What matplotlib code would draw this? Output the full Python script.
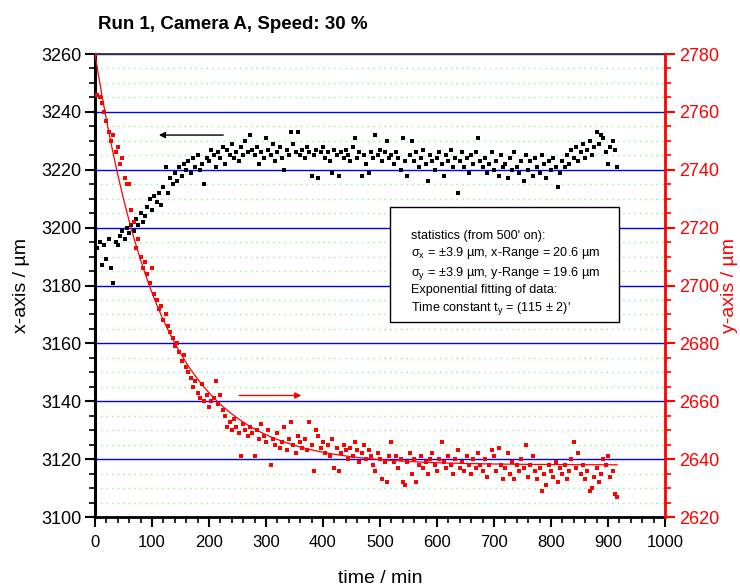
import numpy as np
import matplotlib.pyplot as plt
from matplotlib.ticker import MultipleLocator

plt.rcParams['font.family'] = ['Liberation Sans', 'DejaVu Sans']

# sampling times (min), one reading every 4 minutes
time_min = np.arange(0, 920, 4)

# x position of the spot (left axis, µm)
x_pos = [
    3200, 3193, 3195, 3187, 3194, 3189, 3196, 3186, 3181, 3195,
    3194, 3197, 3199, 3196, 3200, 3198, 3201, 3199, 3203, 3201,
    3205, 3202, 3204, 3207, 3210, 3206, 3211, 3209, 3212, 3208,
    3214, 3221, 3212, 3217, 3215, 3219, 3216, 3221, 3218, 3222,
    3220, 3223, 3219, 3224, 3221, 3225, 3220, 3222, 3215, 3224,
    3223, 3227, 3225, 3221, 3226, 3224, 3228, 3222, 3227, 3225,
    3229, 3224, 3226, 3223, 3228, 3225, 3230, 3226, 3232, 3227,
    3225, 3228, 3222, 3226, 3224, 3231, 3227, 3225, 3229, 3223,
    3226, 3228, 3224, 3220, 3227, 3225, 3233, 3229, 3226, 3233,
    3225, 3227, 3224, 3228, 3226, 3218, 3225, 3227, 3217, 3226,
    3228, 3224, 3226, 3223, 3219, 3227, 3225, 3218, 3226, 3224,
    3227, 3225, 3223, 3228, 3231, 3224, 3226, 3218, 3225, 3222,
    3219, 3226, 3224, 3232, 3225, 3227, 3223, 3226, 3230, 3224,
    3225, 3222, 3226, 3224, 3220, 3231, 3223, 3218, 3225, 3230,
    3223, 3226, 3221, 3224, 3227, 3222, 3216, 3225, 3223, 3220,
    3224, 3226, 3222, 3218, 3225, 3223, 3227, 3221, 3224, 3212,
    3223, 3226, 3221, 3224, 3219, 3225, 3222, 3226, 3231, 3223,
    3221, 3224, 3219, 3222, 3226, 3220, 3223, 3218, 3225, 3221,
    3222, 3217, 3224, 3220, 3226, 3221, 3219, 3223, 3216, 3225,
    3220, 3223, 3218, 3224, 3221, 3219, 3225, 3222, 3217, 3223,
    3220, 3224, 3221, 3214, 3219, 3223, 3221, 3225, 3222, 3227,
    3224, 3228, 3223, 3226, 3229, 3224, 3227, 3230, 3225, 3228,
    3233, 3229, 3232, 3231, 3226, 3222, 3228, 3230, 3227, 3221,
]

# y position of the spot (right axis, µm)
y_pos = [
    2780, 2766, 2765, 2763, 2760, 2757, 2753, 2750, 2752, 2746,
    2748, 2742, 2744, 2737, 2735, 2735, 2726, 2722, 2713, 2716,
    2710, 2706, 2708, 2704, 2701, 2706, 2697, 2695, 2692, 2693,
    2688, 2690, 2686, 2684, 2682, 2679, 2680, 2677, 2674, 2676,
    2672, 2670, 2668, 2665, 2667, 2663, 2661, 2666, 2660, 2662,
    2658, 2660, 2661, 2667, 2659, 2662, 2657, 2655, 2651, 2653,
    2650, 2654, 2651, 2649, 2641, 2652, 2650, 2648, 2651, 2649,
    2641, 2650, 2647, 2652, 2648, 2646, 2650, 2638, 2647, 2645,
    2649, 2644, 2646, 2651, 2643, 2647, 2653, 2645, 2642, 2648,
    2646, 2644, 2647, 2643, 2653, 2645, 2636, 2650, 2648, 2644,
    2646, 2642, 2645, 2641, 2647, 2637, 2644, 2636, 2642, 2645,
    2643, 2640, 2644, 2641, 2646, 2643, 2639, 2642, 2645, 2640,
    2643, 2641, 2638, 2636, 2642, 2640, 2633, 2639, 2632, 2641,
    2646, 2639, 2641, 2637, 2640, 2632, 2631, 2639, 2642, 2635,
    2640, 2632, 2638, 2641, 2637, 2639, 2635, 2640, 2642, 2638,
    2636, 2640, 2646, 2639, 2637, 2641, 2638, 2635, 2640, 2643,
    2637, 2639, 2636, 2641, 2638, 2635, 2640, 2637, 2642, 2638,
    2636, 2640, 2634, 2638, 2643, 2641, 2636, 2644, 2638, 2633,
    2637, 2642, 2635, 2639, 2633, 2638, 2636, 2640, 2637, 2645,
    2634, 2638, 2641, 2636, 2633, 2637, 2629, 2635, 2631, 2638,
    2636, 2634, 2639, 2632, 2637, 2635, 2638, 2633, 2636, 2640,
    2646, 2637, 2642, 2635, 2638, 2633, 2636, 2629, 2630, 2634,
    2637, 2632, 2635, 2640, 2638, 2641, 2634, 2636, 2628, 2627,
]

# exponential fit of the y data
fit_start, fit_end = 2780, 2638
tau = 115
fit_t = np.linspace(0, 916, 300)
fit_y = fit_end + (fit_start - fit_end) * np.exp(-fit_t / tau)

fig = plt.figure(figsize=(7.4, 5.86), dpi=100)
ax = fig.add_axes([0.1284, 0.1177, 0.7702, 0.7901])
ax2 = ax.twinx()

ax.set_xlim(0, 1000)
ax.set_ylim(3100, 3260)
ax2.set_ylim(2620, 2780)

ax.xaxis.set_major_locator(MultipleLocator(100))
ax.xaxis.set_minor_locator(MultipleLocator(20))
ax.yaxis.set_major_locator(MultipleLocator(20))
ax.yaxis.set_minor_locator(MultipleLocator(5))
ax2.yaxis.set_major_locator(MultipleLocator(20))
ax2.yaxis.set_minor_locator(MultipleLocator(5))

# horizontal grid: blue at major, dotted green at minor
ax.yaxis.grid(True, which='major', color='#0000ff', linewidth=1.0)
ax.yaxis.grid(True, which='minor', color='#90ee90', linestyle=(0, (1, 3)), linewidth=1.0)
ax.set_axisbelow(True)

ax.scatter(time_min, x_pos, marker='s', s=5, color='black', linewidths=0, zorder=3)
ax2.scatter(time_min, y_pos, marker='s', s=6, color='#ff0000', linewidths=0, zorder=3)
ax2.plot(fit_t, fit_y, color='#ff0000', linewidth=0.9, zorder=4)

# arrows pointing to the matching axis
ax.annotate('', xy=(112, 3232), xytext=(225, 3232),
            arrowprops=dict(arrowstyle='-|>', color='black', lw=1.0,
                            mutation_scale=9, shrinkA=0, shrinkB=0))
ax2.annotate('', xy=(362, 2662), xytext=(253, 2662),
             arrowprops=dict(arrowstyle='-|>', color='#ff0000', lw=1.0,
                             mutation_scale=9, shrinkA=0, shrinkB=0))

# statistics box
box_text = ("statistics (from 500' on):\n"
            r"$\mathregular{\sigma_x}$ = ±3.9 µm, x-Range = 20.6 µm" "\n"
            r"$\mathregular{\sigma_y}$ = ±3.9 µm, y-Range = 19.6 µm" "\n"
            "Exponential fitting of data:\n"
            r"Time constant $\mathregular{t_y}$ = (115 ± 2)'")
box = plt.Rectangle((0.5175, 0.421), 0.402, 0.2485, transform=ax2.transAxes,
                    facecolor='white', edgecolor='black', linewidth=1.0, zorder=9)
ax2.add_patch(box)
ax2.text(0.554, 0.620, box_text, transform=ax2.transAxes, fontsize=9.1,
         va='top', ha='left', linespacing=1.3, zorder=10)

# spines and ticks
ax.spines['left'].set_linewidth(2.2)
ax.spines['bottom'].set_linewidth(2.0)
ax.spines['top'].set_linewidth(1.3)
ax.spines['top'].set_color('#333333')
ax2.spines['right'].set_color('#ff0000')
ax2.spines['right'].set_linewidth(2.0)
ax2.spines['left'].set_visible(False)
ax2.spines['top'].set_visible(False)
ax2.spines['bottom'].set_visible(False)

ax.tick_params(axis='both', which='major', direction='out', length=7, width=1.5)
ax.tick_params(axis='both', which='minor', direction='out', length=4, width=1.2)
ax.tick_params(axis='x', which='major', pad=6, labelsize=12)
ax.tick_params(axis='y', which='major', pad=3, labelsize=13)
ax2.tick_params(axis='y', which='major', direction='out', length=7, width=1.5,
                colors='#ff0000', labelsize=13, pad=3)
ax2.tick_params(axis='y', which='minor', direction='out', length=4, width=1.2, colors='#ff0000')

ax.set_xlabel('time / min', fontsize=14, labelpad=14)
ax.set_ylabel('x-axis / µm', fontsize=14, labelpad=8)
ax2.set_ylabel('y-axis / µm', fontsize=14, color='#ff0000', labelpad=1)

fig.text(0.132, 0.972, 'Run 1, Camera A, Speed: 30 %', fontsize=13.5,
         fontweight='bold', ha='left', va='top')

fig.savefig('out.png', dpi=100)
